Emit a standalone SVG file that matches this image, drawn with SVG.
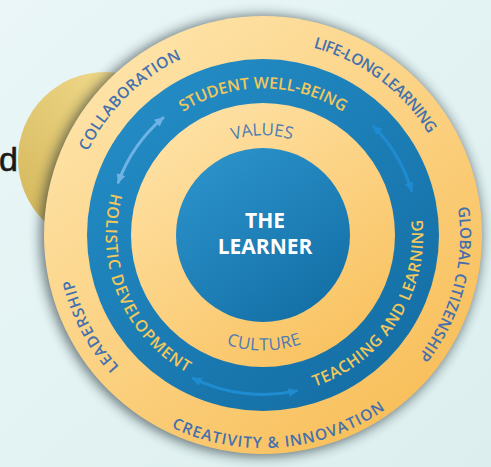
<svg xmlns="http://www.w3.org/2000/svg" width="491" height="467" viewBox="0 0 491 467">
<style>
.outer{font-family:"Open Sans","Liberation Sans",sans-serif;font-weight:600;font-size:15.5px;fill:#4470ad}
.band{font-family:"Open Sans","Liberation Sans",sans-serif;font-weight:600;font-size:16px;fill:#f2c85c}
.inner{font-family:"Open Sans","Liberation Sans",sans-serif;font-weight:400;font-size:17px;fill:#4f7bb2}
.center{font-family:"Open Sans","Liberation Sans",sans-serif;font-weight:700;font-size:21px;fill:#ffffff;text-anchor:middle}
.arrow{fill:none;stroke-width:3;stroke-linecap:round}
</style>
<defs>
<linearGradient id="bg" x1="0" y1="0" x2="1" y2="1">
<stop offset="0" stop-color="#eaf6f7"/><stop offset="1" stop-color="#dcefee"/>
</linearGradient>
<linearGradient id="gold" x1="0.8" y1="0.1" x2="0.1" y2="0.9">
<stop offset="0" stop-color="#f1db8e"/><stop offset="1" stop-color="#d5b85c"/>
</linearGradient>
<linearGradient id="yel" x1="0.15" y1="0.1" x2="0.85" y2="0.95">
<stop offset="0" stop-color="#fee3a8"/><stop offset="1" stop-color="#f8be58"/>
</linearGradient>
<linearGradient id="blu" x1="0.15" y1="0.1" x2="0.85" y2="0.95">
<stop offset="0" stop-color="#238bc4"/><stop offset="1" stop-color="#146ea4"/>
</linearGradient>
<linearGradient id="yel2" x1="0.2" y1="0.1" x2="0.8" y2="0.95">
<stop offset="0" stop-color="#fee0a2"/><stop offset="1" stop-color="#f9c260"/>
</linearGradient>
<linearGradient id="blu2" x1="0.2" y1="0.1" x2="0.8" y2="0.95">
<stop offset="0" stop-color="#2a90c8"/><stop offset="1" stop-color="#1470a7"/>
</linearGradient>
<filter id="blur" x="-20%" y="-20%" width="140%" height="140%">
<feGaussianBlur stdDeviation="6"/>
</filter>
<marker id="mLight" viewBox="0 0 10 10" refX="9" refY="5" markerWidth="10" markerHeight="9" markerUnits="userSpaceOnUse" orient="auto-start-reverse">
<path d="M0,0 L10,5 L0,10 Z" fill="#6fb3e6"/>
</marker>
<marker id="mDark" viewBox="0 0 10 10" refX="9" refY="5" markerWidth="10" markerHeight="9" markerUnits="userSpaceOnUse" orient="auto-start-reverse">
<path d="M0,0 L10,5 L0,10 Z" fill="#1f8bd0"/>
</marker>
<path id="p1" d="M87.9,151.5 A194,194 0 0 1 206.9,49.3"/>
<path id="p2" d="M313.2,47.6 A194,194 0 0 1 441.1,158.0"/>
<path id="p3" d="M458.0,207.2 A197,197 0 0 1 399.6,377.0"/>
<path id="p4" d="M171.3,427.3 A213,213 0 0 0 408.3,390.8"/>
<path id="p5" d="M119.2,366.7 A195,195 0 0 1 68.8,252.7"/>
<path id="p6" d="M183.1,112.0 A146.7,146.7 0 0 1 359.2,124.3"/>
<path id="p7" d="M111.4,193.0 A157.3,157.3 0 0 0 206.6,381.9"/>
<path id="p8" d="M314.7,386.7 A160.3,160.3 0 0 0 418.9,197.9"/>
<path id="p9" d="M232.8,140.0 A99.7,99.7 0 0 1 305.1,144.6"/>
<path id="p10" d="M226.2,344.5 A115.5,115.5 0 0 0 317.2,337.0"/>
</defs>

<rect width="491" height="467" fill="url(#bg)"/>

<g id="backdrop">
<circle cx="105" cy="159" r="87" fill="url(#gold)"/>
<text x="-1" y="171" font-family="Liberation Sans, Arial, sans-serif" font-size="34" fill="#1a1a1a" stroke="#1a1a1a" stroke-width="0.6">d</text>
</g>

<circle cx="261" cy="236" r="221" fill="#1d2a30" opacity="0.6" filter="url(#blur)"/>

<g id="ring-outer">
<circle cx="263" cy="235" r="219" fill="url(#yel)"/>
</g>
<g id="ring-band">
<circle cx="263" cy="235" r="176" fill="url(#blu)"/>
</g>
<g id="ring-inner">
<circle cx="263" cy="235" r="132" fill="url(#yel2)"/>
</g>
<g id="learner">
<circle cx="263" cy="235" r="87" fill="url(#blu2)"/>
<text class="center" x="265" y="228">THE</text>
<text class="center" x="265" y="254">LEARNER</text>
</g>

<g id="outer-labels">
<g id="collaboration"><text class="outer"><textPath href="#p1" textLength="134.4" lengthAdjust="spacing">COLLABORATION</textPath></text></g>
<g id="lifelong"><text class="outer"><textPath href="#p2" textLength="147.6" lengthAdjust="spacing">LIFE-LONG LEARNING</textPath></text></g>
<g id="global"><text class="outer"><textPath href="#p3" textLength="158.8" lengthAdjust="spacing">GLOBAL CITIZENSHIP</textPath></text></g>
<g id="creativity"><text class="outer"><textPath href="#p4" textLength="224.9" lengthAdjust="spacing">CREATIVITY &amp; INNOVATION</textPath></text></g>
<g id="leadership"><text class="outer"><textPath href="#p5" textLength="99.7" lengthAdjust="spacing">LEADERSHIP</textPath></text></g>
</g>

<g id="band-labels">
<g id="wellbeing"><text class="band"><textPath href="#p6" textLength="169" lengthAdjust="spacing">STUDENT WELL-BEING</textPath></text></g>
<g id="holistic"><text class="band"><textPath href="#p7" textLength="210" lengthAdjust="spacing">HOLISTIC DEVELOPMENT</textPath></text></g>
<g id="teaching"><text class="band"><textPath href="#p8" textLength="214.3" lengthAdjust="spacing">TEACHING AND LEARNING</textPath></text></g>
</g>

<g id="inner-labels">
<g id="values"><text class="inner"><textPath href="#p9" textLength="59.7" lengthAdjust="spacing">VALUES</textPath></text></g>
<g id="culture"><text class="inner"><textPath href="#p10" textLength="77" lengthAdjust="spacing">CULTURE</textPath></text></g>
</g>

<g id="connectors">
<path class="arrow" d="M163.0,117.9 A154,154 0 0 0 118.3,182.3" stroke="#6fb3e6" marker-start="url(#mLight)" marker-end="url(#mLight)"/>
<path class="arrow" d="M373.6,126.4 A155,155 0 0 1 411.5,190.5" stroke="#1f8bd0" marker-start="url(#mDark)" marker-end="url(#mDark)"/>
<path class="arrow" d="M193.1,378.4 A159.5,159.5 0 0 0 296.7,390.9" stroke="#1f8bd0" marker-start="url(#mDark)" marker-end="url(#mDark)"/>
</g>
</svg>
